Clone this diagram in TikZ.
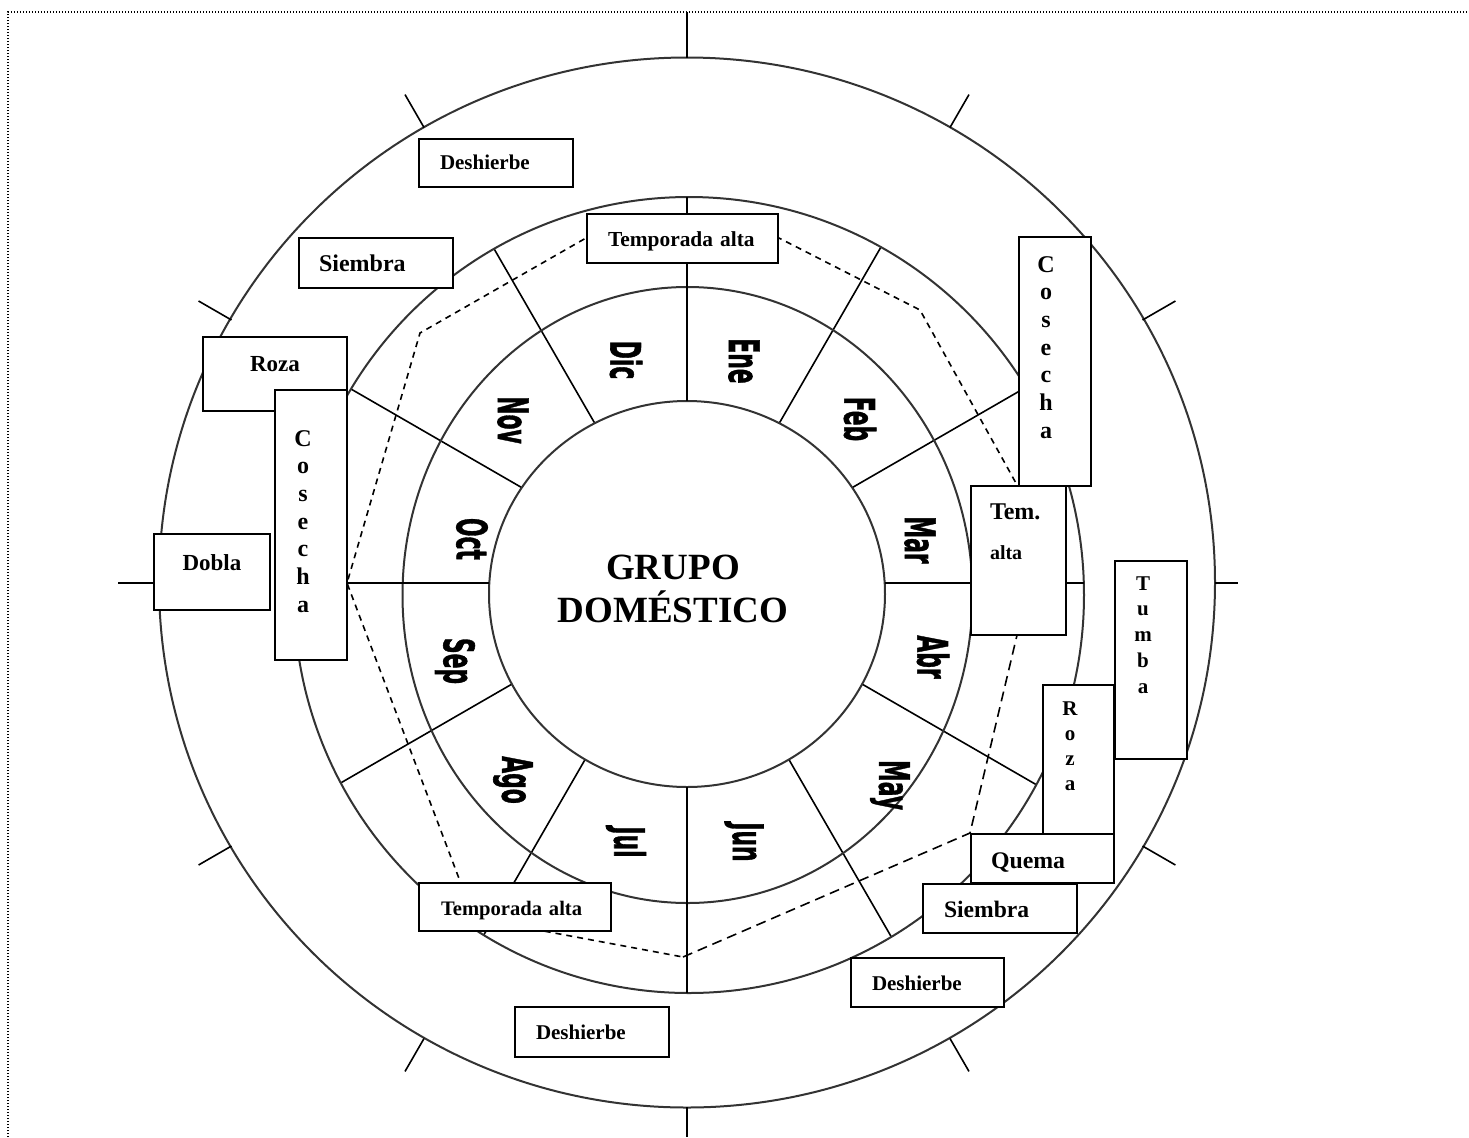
\documentclass[tikz,border=0pt]{standalone}
\usepackage{fontspec}
\setmainfont{Liberation Serif}
\newfontfamily\mesfont{DejaVu Sans}[BoldFeatures={FakeBold=1.5}]
\newcommand{\nombremes}[1]{\scalebox{0.52}[1]{#1}}
% letras apiladas, corridas a la izquierda
\newcommand{\letrasv}[2]{\begin{tabular}[t]{@{}c@{\hspace{#1}}}#2\end{tabular}}
\tikzset{
  caja/.style={draw,fill=white,line width=1pt,anchor=north west,inner ysep=0pt,font=\bfseries},
  mes/.style={rotate=-90,inner sep=0pt,font=\mesfont\bfseries\fontsize{21}{21}\selectfont},
  anillo/.style={line width=1pt,black!80},
  radio/.style={line width=0.8pt},
  marca/.style={line width=0.8pt},
  % temporada alta: linea discontinua
  temporada/.style={line width=0.8pt,dash pattern=on 3pt off 2.5pt},
  temporadalarga/.style={line width=0.8pt,dash pattern=on 5pt off 3pt}
}
\begin{document}
\begin{tikzpicture}[x=0.5pt,y=-0.5pt]
  \useasboundingbox (0,0) rectangle (1469,1137);
  \draw[line width=0.6pt,dash pattern=on 0.6pt off 0.9pt] (8,1137) -- (8,12) -- (1469,12);
  \coordinate (centro) at (687,583);
  % divisiones de los meses
  \begin{scope}
    \clip (689,595) ellipse [x radius=197.5pt,y radius=199pt];
    \foreach \a in {30,60,120,150,210,240,300,330}
      \draw[radio] (centro) -- ++(\a:420);
  \end{scope}
  \draw[anillo,fill=white] (687,594) ellipse [x radius=99pt,y radius=96.5pt];
  \draw[anillo] (687.5,595) ellipse [x radius=142.5pt,y radius=154pt];
  \draw[anillo] (689,595) ellipse [x radius=197.5pt,y radius=199pt];
  \draw[anillo] (687,582.5) ellipse [x radius=264pt,y radius=262.5pt];
  % ejes
  \draw[radio] (118,583) -- (159,583);
  \draw[radio] (294,583) -- (489,583);
  \draw[radio] (885,583) -- (1084,583);
  \draw[radio] (1215,583) -- (1238,583);
  \draw[radio] (687,12) -- (687,58);
  \draw[radio] (687,197) -- (687,401);
  \draw[radio] (687,787) -- (687,993);
  \draw[radio] (687,1107) -- (687,1137);
  \foreach \a in {30,60,120,150,210,240,300,330}
    \draw[marca] (centro) ++(\a:526) -- ++(\a:38);
  % temporada alta
  \coordinate (ta1) at (586,238);
  \coordinate (ta2) at (420,333);
  \coordinate (ta3) at (347,583);
  \coordinate (ta4) at (474,918);
  \coordinate (ta5) at (683,957);
  \coordinate (ta6) at (970,833);
  \coordinate (ta7) at (1042,530);
  \coordinate (ta8) at (920,310);
  \coordinate (ta9) at (777,237);
  \draw[temporada] (ta7) -- (ta8) -- (ta9) -- (ta1) -- (ta2) -- (ta3) -- (ta4) -- (ta5);
  \draw[temporadalarga] (ta5) -- (ta6) -- (ta7);
  % meses
  \node[mes] (ene) at (744,361) {\nombremes{Ene}};
  \node[mes] (feb) at (860,419) {\nombremes{Feb}};
  \node[mes] (mar) at (920,540) {\nombremes{Mar}};
  \node[mes] (abr) at (933,657) {\nombremes{Abr}};
  \node[mes] (may) at (890,785) {\nombremes{May}};
  \node[mes] (jun) at (744,842) {\nombremes{Jun}};
  \node[mes] (jul) at (626,842) {\nombremes{Jul}};
  \node[mes] (ago) at (513,780) {\nombremes{Ago}};
  \node[mes] (sep) at (455,661) {\nombremes{Sep}};
  \node[mes] (oct) at (472,539) {\nombremes{Oct}};
  \node[mes] (nov) at (513,420) {\nombremes{Nov}};
  \node[mes] (dic) at (626,360) {\nombremes{Dic}};
  \node[anchor=base,text width=150pt,align=center,inner sep=0pt,font=\bfseries\fontsize{18.5}{21.5}\selectfont] (grupo) at (673,579.5) {GRUPO\\DOMÉSTICO};
  % actividades
  \node[caja,text width=56pt,inner xsep=10.5pt,text height=15pt,text depth=9pt,align=left,font=\bfseries\fontsize{10.5}{12}\selectfont] (deshA) at (418,138) {Deshierbe};
  \node[caja,text width=74.5pt,inner xsep=10.5pt,text height=16pt,text depth=8.5pt,align=left,font=\bfseries\fontsize{10.7}{12}\selectfont] (tempA) at (586,213) {Temporada~alta};
  \node[caja,text width=57pt,inner xsep=10pt,text height=16.5pt,text depth=8.5pt,align=left,font=\bfseries\fontsize{12}{14}\selectfont] (siembraA) at (298,237) {Siembra};
  \node[caja,text width=62pt,inner xsep=5pt,text height=17pt,text depth=20pt,align=center,font=\bfseries\fontsize{11.5}{13}\selectfont] (rozaA) at (202,336) {Roza};
  \node[caja,text width=28pt,inner xsep=4pt,text height=28pt,text depth=107pt,align=center,font=\bfseries\fontsize{12}{13.85}\selectfont] (cosechaA) at (274,389) {\letrasv{8pt}{C\\o\\s\\e\\c\\h\\a}};
  \node[caja,text width=50pt,inner xsep=4pt,text height=18pt,text depth=20pt,align=center,font=\bfseries\fontsize{11.5}{13}\selectfont] (dobla) at (153,533) {Dobla};
  \node[caja,text width=74pt,inner xsep=11pt,text height=16pt,text depth=8pt,align=left,font=\bfseries\fontsize{10.3}{12}\selectfont] (tempB) at (418,882) {Temporada~alta};
  \node[caja,text width=56pt,inner xsep=10.5pt,text height=16pt,text depth=9pt,align=left,font=\bfseries\fontsize{10.5}{12}\selectfont] (deshB) at (514,1006) {Deshierbe};
  \node[caja,text width=55.5pt,inner xsep=10.5pt,text height=16pt,text depth=8.5pt,align=left,font=\bfseries\fontsize{10.5}{12}\selectfont] (deshC) at (850,957) {Deshierbe};
  \node[caja,text width=32pt,inner xsep=2pt,text height=14.5pt,text depth=84.5pt,align=center,font=\bfseries\fontsize{10.5}{12.9}\selectfont] (tumba) at (1114,560) {\letrasv{8pt}{T\\u\\m\\b\\a}};
  \node[caja,text width=31.5pt,inner xsep=2pt,text height=15pt,text depth=59.5pt,align=center,font=\bfseries\fontsize{10.5}{12.5}\selectfont] (rozaB) at (1042,684) {\letrasv{8.5pt}{R\\o\\z\\a}};
  \node[caja,text width=51.5pt,inner xsep=10pt,text height=17pt,text depth=7.5pt,align=left,font=\bfseries\fontsize{11.9}{14}\selectfont] (quema) at (970,833) {Quema};
  \node[caja,text width=56pt,inner xsep=10.5pt,text height=16.5pt,text depth=8pt,align=left,font=\bfseries\fontsize{11.8}{14}\selectfont] (siembraB) at (922,883) {Siembra};
  \node[caja,text width=28pt,inner xsep=4pt,text height=17.5pt,text depth=107pt,align=center,font=\bfseries\fontsize{12}{13.85}\selectfont] (cosechaB) at (1018,236) {\letrasv{9pt}{C\\o\\s\\e\\c\\h\\a}};
  \node[caja,text width=28.5pt,inner xsep=9.5pt,text height=16.5pt,text depth=58pt,align=left,font=\bfseries\fontsize{12}{20}\selectfont] (temC) at (970,485) {Tem.\\{\fontsize{10}{20}\selectfont alta}};
\end{tikzpicture}
\end{document}
